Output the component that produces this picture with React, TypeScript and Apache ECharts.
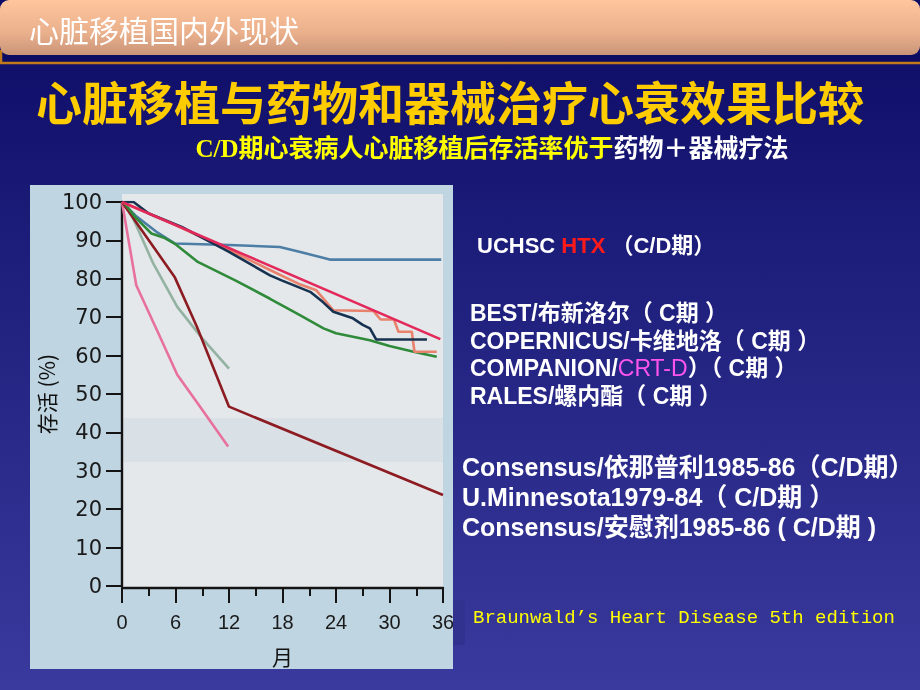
import { useEffect, useRef } from 'react';
import * as echarts from 'echarts';

/* ───── Data (month, survival %) ───── */
const uchscHtx = [[0, 100], [1.5, 96.5], [4, 92], [5.9, 89.2], [12, 88.8], [17.7, 88.3], [20, 87], [23.3, 85], [35.8, 85]];
const best = [[0, 100], [35.7, 64.3]];
const copernicus = [[0, 100], [6, 94], [12, 87.5], [16.6, 82.3], [20, 78.5], [21.8, 77], [23.7, 71.8], [28.2, 71.6], [29, 69.4], [30.5, 69.4], [31, 66.2], [32.5, 66.2], [32.8, 61], [35.3, 61]];
const companion = [[0, 100], [1.3, 100], [3, 97], [6.7, 93.5], [12, 87], [16.6, 80.9], [17.9, 79.6], [21.1, 76.6], [22.5, 74], [23.7, 71.4], [25.9, 69.7], [27, 68], [27.8, 67.1], [28.5, 64.2], [34.2, 64.2]];
const rales = [[0, 100], [0.3, 99.6], [1.5, 96], [3.3, 91.8], [4.8, 90.6], [6, 89], [8.5, 84.4], [12.7, 79.6], [16.6, 74.8], [18, 73], [20, 70.5], [22.6, 67.1], [24, 65.8], [27.8, 64], [30, 62.5], [32.7, 61], [35.3, 59.7]];
const consensusEnalapril = [[0, 100], [1, 97], [3.5, 84], [6.2, 72.7], [9, 64.5], [12, 56.6]];
const minnesota = [[0, 100], [1.8, 94], [5.9, 80.5], [8.4, 67.5], [12, 46.7], [36, 23.7]];
const consensusPlacebo = [[0, 100], [1.6, 78.3], [4, 66.2], [6.2, 55], [8.5, 47.5], [11.9, 36.3]];

const xTicks = [0, 6, 12, 18, 24, 30, 36];
const yTicks = [0, 10, 20, 30, 40, 50, 60, 70, 80, 90, 100];

const SANS = 'Liberation Sans, Arial, Noto Sans CJK SC';
const CJK = 'Noto Sans CJK SC, Liberation Sans';

function legendText(x: number, y: number, text: string, size: number, rich?: Record<string, any>) {
  return {
    type: 'text', x, y, z: 10,
    style: {
      text, fill: '#ffffff', fontSize: size, fontWeight: 'bold', fontFamily: SANS,
      verticalAlign: 'middle', align: 'left', rich,
    },
  };
}

export default function App() {
  const ref = useRef<HTMLDivElement>(null);

  useEffect(() => {
    if (!ref.current) return;
    const chart = echarts.init(ref.current, null, { renderer: 'svg' });
    const line = (name: string, data: number[][], color: string, z = 2) => ({
      name, type: 'line', data, showSymbol: false, symbol: 'none', z,
      lineStyle: { color, width: 2.6 }, itemStyle: { color },
    });
    const axisStyle = { color: '#141414', width: 2.4 };

    chart.setOption({
      animation: false,
      graphic: [
        /* slide background */
        { type: 'rect', z: -10, shape: { x: 0, y: 0, width: 920, height: 690 },
          style: { fill: new echarts.graphic.LinearGradient(0, 0, 0, 1, [
            { offset: 0, color: '#0c0c66' }, { offset: 1, color: '#3a3a9e' },
          ]) } },
        /* header bar */
        { type: 'rect', z: -9, shape: { x: 0, y: 54, width: 920, height: 9 }, style: { fill: '#0b0b62' } },
        { type: 'line', z: -8, shape: { x1: 0, y1: 63, x2: 920, y2: 63 }, style: { stroke: '#c07a1c', lineWidth: 2.5 } },
        { type: 'line', z: -8, shape: { x1: 1, y1: 50, x2: 1, y2: 63 }, style: { stroke: '#c07a1c', lineWidth: 2.5 } },
        { type: 'rect', z: -7, shape: { x: 0, y: 0, width: 920, height: 55, r: 9 },
          style: { fill: new echarts.graphic.LinearGradient(0, 0, 0, 1, [
            { offset: 0, color: '#ffc59c' }, { offset: 0.6, color: '#eab08c' }, { offset: 1, color: '#c99478' },
          ]) } },
        { type: 'text', x: 29, y: 29, z: 10,
          style: { text: '心脏移植国内外现状', fill: '#ffffff', fontSize: 30, fontFamily: CJK,
            verticalAlign: 'middle', textShadowColor: 'rgba(90,50,20,0.5)', textShadowOffsetX: 1, textShadowOffsetY: 1 } },
        /* titles */
        { type: 'text', x: 450, y: 100, z: 10,
          style: { text: '心脏移植与药物和器械治疗心衰效果比较', fill: '#ffcc00', fontSize: 46, fontWeight: 'bold',
            fontFamily: CJK, align: 'center', verticalAlign: 'middle',
            textShadowColor: '#000000', textShadowOffsetX: 2, textShadowOffsetY: 2 } },
        { type: 'text', x: 492, y: 148, z: 10,
          style: { text: '{y|C/D期心衰病人心脏移植后存活率优于}{w|药物＋器械疗法}', align: 'center', verticalAlign: 'middle',
            rich: {
              y: { fill: '#ffff00', fontSize: 25, fontWeight: 'bold', fontFamily: 'Liberation Serif, Noto Sans CJK SC' },
              w: { fill: '#ffffff', fontSize: 25, fontWeight: 'bold', fontFamily: 'Liberation Serif, Noto Sans CJK SC' },
            } } },
        /* scanned figure background */
        { type: 'rect', z: -6, shape: { x: 30, y: 185, width: 423, height: 484 }, style: { fill: '#bfd5e1' } },
        { type: 'rect', z: -5, shape: { x: 122, y: 194, width: 321, height: 393 }, style: { fill: '#e4e8eb' } },
        { type: 'rect', z: -4, shape: { x: 122, y: 418, width: 321, height: 44 }, style: { fill: '#d9e1e6' } },
        /* crop of the "36" label at the scan edge */
        { type: 'rect', z: 100, shape: { x: 453, y: 600, width: 12, height: 45 }, style: { fill: '#31318f' } },
        /* legend texts */
        legendText(477, 245, '{w|UCHSC }{r|HTX}{w| （C/D期）}', 22, {
          w: { fill: '#ffffff', fontSize: 22, fontWeight: 'bold', fontFamily: SANS },
          r: { fill: '#ff1a1a', fontSize: 22, fontWeight: 'bold', fontFamily: SANS },
        }),
        legendText(470, 313, 'BEST/布新洛尔（ C期 ）', 23),
        legendText(470, 341, 'COPERNICUS/卡维地洛（ C期 ）', 23),
        legendText(470, 368, '{w|COMPANION/}{m|CRT-D}{w|）（ C期 ）}', 23, {
          w: { fill: '#ffffff', fontSize: 23, fontWeight: 'bold', fontFamily: SANS },
          m: { fill: '#ff55ee', fontSize: 23, fontWeight: 'normal', fontFamily: SANS },
        }),
        legendText(470, 396, 'RALES/螺内酯（ C期 ）', 23),
        legendText(462, 467, 'Consensus/依那普利1985-86（C/D期）', 25),
        legendText(462, 497, 'U.Minnesota1979-84（ C/D期 ）', 25),
        legendText(462, 527, 'Consensus/安慰剂1985-86 ( C/D期 )', 25),
        { type: 'text', x: 473, y: 618, z: 10,
          style: { text: 'Braunwald\u2019s Heart Disease 5th edition', fill: '#ffff00', fontSize: 19,
            fontFamily: 'Liberation Mono, DejaVu Sans Mono', verticalAlign: 'middle' } },
      ],
      grid: { left: 122, top: 202, width: 321, height: 384 },
      xAxis: {
        type: 'value', min: xTicks[0], max: xTicks[xTicks.length - 1], interval: 6, offset: 2,
        axisLine: { show: true, onZero: false, lineStyle: axisStyle },
        axisTick: { show: true, length: 15, lineStyle: { color: '#141414', width: 2 } },
        minorTick: { show: true, splitNumber: 2, length: 8, lineStyle: { color: '#141414', width: 2 } },
        splitLine: { show: false },
        axisLabel: { fontSize: 20, color: '#1a1a1a', fontFamily: SANS, margin: 24 },
        name: '月', nameLocation: 'middle', nameGap: 57,
        nameTextStyle: { fontSize: 21, color: '#111', fontFamily: CJK },
      },
      yAxis: {
        type: 'value', min: yTicks[0], max: yTicks[yTicks.length - 1], interval: 10,
        axisLine: { show: true, lineStyle: axisStyle },
        axisTick: { show: true, length: 16, lineStyle: { color: '#141414', width: 2 } },
        splitLine: { show: false },
        axisLabel: { fontSize: 21, color: '#1a1a1a', fontFamily: 'DejaVu Sans, Liberation Sans', margin: 20 },
        name: '存活 (%)', nameLocation: 'middle', nameGap: 66, nameRotate: 90,
        nameTextStyle: { fontSize: 21, color: '#111', fontFamily: CJK },
      },
      series: [
        line('UCHSC HTX', uchscHtx, '#4d7fa6'),
        line('Consensus/依那普利', consensusEnalapril, '#93b2a2'),
        line('Consensus/安慰剂', consensusPlacebo, '#e8709c'),
        line('U.Minnesota', minnesota, '#8c1c22'),
        line('RALES', rales, '#2f8a3a', 3),
        line('COPERNICUS', copernicus, '#e8826c', 4),
        line('COMPANION', companion, '#173250', 5),
        line('BEST', best, '#e3285a', 6),
      ],
    });
    return () => { chart.dispose(); };
  }, []);

  return <div ref={ref} style={{ position: 'fixed', left: 0, top: 0, width: 920, height: 690 }} />;
}
